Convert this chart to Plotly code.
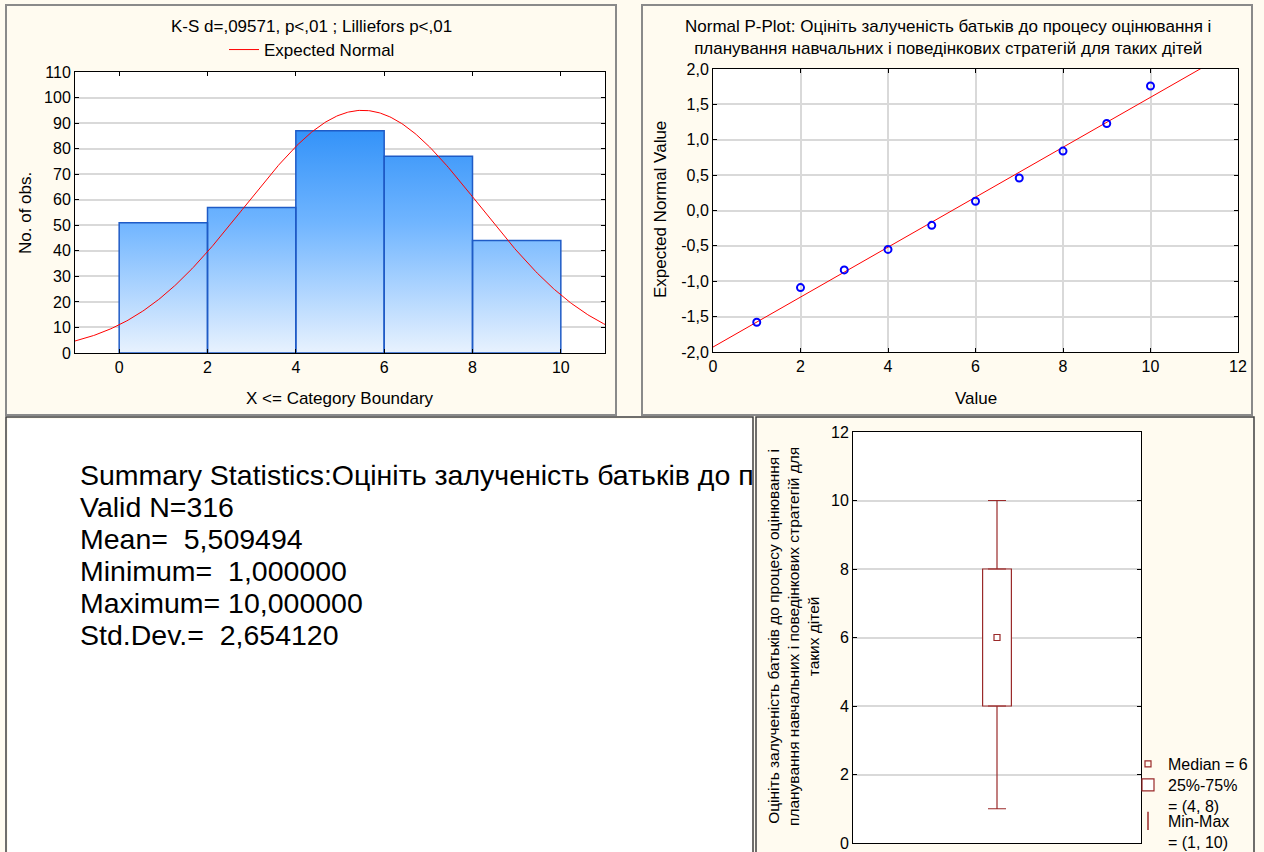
import plotly.graph_objects as go
import numpy as np

# ---------------- data ----------------
var_name = "Оцініть залученість батьків до процесу оцінювання і планування навчальних і поведінкових стратегій для таких дітей"
bin_edges = [0, 2, 4, 6, 8, 10]
bin_counts = [51, 57, 87, 77, 44]
n_valid = 316
mean_val = 5.509494
min_val = 1.0
max_val = 10.0
sd_val = 2.654120
hist_title = "K-S d=,09571, p<,01 ; Lilliefors p<,01"
hist_yticks = [0, 10, 20, 30, 40, 50, 60, 70, 80, 90, 100, 110]
hist_xticks = [0, 2, 4, 6, 8, 10]

pp_values = [1, 2, 3, 4, 5, 6, 7, 8, 9, 10]
pp_expected = [-1.58, -1.09, -0.84, -0.55, -0.21, 0.13, 0.46, 0.84, 1.23, 1.76]
pp_fit_intercept = -1.93
pp_fit_slope = 0.353
pp_yticks = [-2.0, -1.5, -1.0, -0.5, 0.0, 0.5, 1.0, 1.5, 2.0]
pp_yticklabels = ["-2,0", "-1,5", "-1,0", "-0,5", "0,0", "0,5", "1,0", "1,5", "2,0"]
pp_xticks = [0, 2, 4, 6, 8, 10, 12]

box_q1 = 4
box_median = 6
box_q3 = 8
box_yticks = [0, 2, 4, 6, 8, 10, 12]

# ---------------- helpers ----------------
W, H = 1264, 852
FONT = "Arial, Liberation Sans, sans-serif"
CREAM = "#FFFBF0"
BOXRED = "#9A2A2A"
TXT = 17
TICK = 16


def px(x):
    return x / W


def py(y):
    return 1 - y / H


fig = go.Figure()

# ---------------- histogram ----------------
bx, by = [], []
for i, c in enumerate(bin_counts):
    l, r = bin_edges[i], bin_edges[i + 1]
    bx += [l, l, r, r, l, None]
    by += [0, c, c, 0, 0, None]
fig.add_trace(go.Scatter(
    x=bx, y=by, mode="lines", fill="toself",
    line=dict(color="#1F5BC6", width=1.5),
    fillgradient=dict(type="vertical", start=0, stop=90,
                      colorscale=[[0, "#E8F2FE"], [0.567, "#70B5FF"], [1, "#2F90F8"]]),
    showlegend=False, hoverinfo="skip", xaxis="x", yaxis="y"))

bw = bin_edges[1] - bin_edges[0]
cx = np.linspace(-1, 11, 400)
cy = n_valid * bw * np.exp(-0.5 * ((cx - mean_val) / sd_val) ** 2) / (sd_val * np.sqrt(2 * np.pi))
fig.add_trace(go.Scatter(
    x=cx, y=cy, mode="lines", line=dict(color="#FF0000", width=1),
    name="Expected Normal", legend="legend", xaxis="x", yaxis="y"))

# ---------------- normal probability plot ----------------
lx = np.array([0, 12])
fig.add_trace(go.Scatter(
    x=lx, y=pp_fit_intercept + pp_fit_slope * lx, mode="lines",
    line=dict(color="#FF0000", width=1), showlegend=False, xaxis="x2", yaxis="y2"))
fig.add_trace(go.Scatter(
    x=pp_values, y=pp_expected, mode="markers",
    marker=dict(symbol="circle-open", size=7, color="#0000FF", line=dict(width=2, color="#0000FF")),
    showlegend=False, xaxis="x2", yaxis="y2"))

# ---------------- box plot ----------------
fig.add_trace(go.Scatter(
    x=[0, 0], y=[box_q3, box_q1], mode="markers",
    marker=dict(size=1, color="rgba(0,0,0,0)"),
    error_y=dict(type="data", symmetric=False,
                 array=[max_val - box_q3, 0], arrayminus=[0, box_q1 - min_val],
                 color=BOXRED, thickness=1.2, width=9),
    showlegend=False, xaxis="x3", yaxis="y3"))
fig.add_trace(go.Bar(
    x=[0], y=[box_q3 - box_q1], base=[box_q1], width=0.2,
    marker=dict(color="white", line=dict(color=BOXRED, width=1.2)),
    name=f"25%-75%<br>= ({box_q1}, {box_q3})", legend="legend3",
    xaxis="x3", yaxis="y3"))
fig.add_trace(go.Scatter(
    x=[0], y=[box_median], mode="markers",
    marker=dict(symbol="square-open", size=6, color=BOXRED, line=dict(width=1.2, color=BOXRED)),
    name=f"Median = {box_median:g}", legend="legend2",
    xaxis="x3", yaxis="y3"))
fig.add_trace(go.Scatter(
    x=[None], y=[None], mode="markers",
    marker=dict(symbol="line-ns-open", size=13, color=BOXRED, line=dict(width=1.5, color=BOXRED)),
    name=f"Min-Max<br>= ({min_val:g}, {max_val:g})", legend="legend4",
    xaxis="x3", yaxis="y3"))

# ---------------- summary text (clipped by its panel) ----------------
def fmt(v):
    return f"{v:.6f}".replace(".", ",")

NB = "\u00a0"
summary_lines = [
    "Summary Statistics:" + var_name,
    f"Valid N={n_valid}",
    f"Mean={NB} {fmt(mean_val)}",
    f"Minimum={NB} {fmt(min_val)}",
    f"Maximum= {fmt(max_val)}",
    f"Std.Dev.={NB} {fmt(sd_val)}",
]
txt_top, txt_bot = 419, 852
line_pix = [478 + 32.0 * i for i in range(len(summary_lines))]
fig.add_trace(go.Scatter(
    x=[(80 - 8) / (752 - 8)] * len(summary_lines),
    y=[(txt_bot - p) / (txt_bot - txt_top) for p in line_pix],
    mode="text", text=summary_lines, textposition="middle right",
    textfont=dict(family=FONT, size=28.5, color="black"),
    cliponaxis=True, showlegend=False, hoverinfo="skip", xaxis="x4", yaxis="y4"))

# ---------------- axes ----------------
axis_common = dict(showline=True, linecolor="black", linewidth=1, mirror="ticks",
                   ticks="inside", ticklen=4, tickcolor="black", zeroline=False,
                   automargin=False,
                   tickfont=dict(family=FONT, size=TICK, color="black"),
                   gridcolor="#D9D9D9", gridwidth=1.5)

fig.update_layout(
    xaxis=dict(axis_common, domain=[px(75), px(605)], range=[-1, 11], tickvals=hist_xticks,
               showgrid=False, anchor="y"),
    yaxis=dict(axis_common, domain=[py(353), py(72)], range=[0, 110], tickvals=hist_yticks,
               showgrid=True, anchor="x"),
    xaxis2=dict(axis_common, domain=[px(713), px(1238)], range=[0, 12], tickvals=pp_xticks,
                showgrid=True, anchor="y2"),
    yaxis2=dict(axis_common, domain=[py(352), py(69)], range=[-2, 2], tickvals=pp_yticks,
                ticktext=pp_yticklabels, showgrid=True, anchor="x2"),
    xaxis3=dict(axis_common, domain=[px(853), px(1141)], range=[-1, 1], showticklabels=False,
                ticks="", showgrid=False, anchor="y3"),
    yaxis3=dict(axis_common, domain=[py(843), py(432)], range=[0, 12], tickvals=box_yticks,
                showgrid=True, anchor="x3"),
    xaxis4=dict(domain=[px(8), px(752)], range=[0, 1], visible=False, anchor="y4", automargin=False),
    yaxis4=dict(domain=[0, py(419)], range=[0, 1], visible=False, anchor="x4", automargin=False),
)

# ---------------- layout ----------------
ann_font = dict(family=FONT, size=TXT, color="black")
annotations = [
    dict(text=hist_title, x=px(311), y=py(27), xref="paper", yref="paper",
         showarrow=False, font=ann_font, xanchor="center", yanchor="middle"),
    dict(text="X <= Category Boundary", x=px(340), y=py(399), xref="paper", yref="paper",
         showarrow=False, font=ann_font, xanchor="center", yanchor="middle"),
    dict(text="No. of obs.", x=px(25), y=py(213), xref="paper", yref="paper", textangle=-90,
         showarrow=False, font=ann_font, xanchor="center", yanchor="middle"),
    dict(text="Normal P-Plot: Оцініть залученість батьків до процесу оцінювання і<br>"
              "планування навчальних і поведінкових стратегій для таких дітей",
         x=px(948), y=py(37.5), xref="paper", yref="paper",
         showarrow=False, font=ann_font, xanchor="center", yanchor="middle"),
    dict(text="Value", x=px(976), y=py(399), xref="paper", yref="paper",
         showarrow=False, font=ann_font, xanchor="center", yanchor="middle"),
    dict(text="Expected Normal Value", x=px(660), y=py(210), xref="paper", yref="paper",
         textangle=-90, showarrow=False, font=ann_font, xanchor="center", yanchor="middle"),
    dict(text="Оцініть залученість батьків до процесу оцінювання і<br>"
              "планування навчальних і поведінкових стратегій для<br>таких дітей",
         x=px(793), y=py(637), xref="paper", yref="paper", textangle=-90,
         showarrow=False, font=dict(family=FONT, size=15.5, color="black"),
         xanchor="center", yanchor="middle"),
]

shapes = [
    dict(type="rect", xref="paper", yref="paper", x0=px(6), x1=px(616), y0=py(415), y1=py(5),
         line=dict(color="#8A8A8A", width=2), layer="below"),
    dict(type="rect", xref="paper", yref="paper", x0=px(642), x1=px(1252), y0=py(415), y1=py(5),
         line=dict(color="#8A8A8A", width=2), layer="below"),
    dict(type="rect", xref="paper", yref="paper", x0=px(6), x1=px(753), y0=-0.02, y1=py(417),
         line=dict(color="#404040", width=1.5), layer="below"),
    dict(type="rect", xref="paper", yref="paper", x0=px(756), x1=px(1254), y0=-0.02, y1=py(417),
         line=dict(color="#404040", width=1.5), layer="below"),
]

box_legend = dict(x=px(1128), xanchor="left", yanchor="top", bgcolor="rgba(0,0,0,0)",
                  font=dict(family=FONT, size=16, color="black"), itemwidth=30,
                  borderwidth=0, valign="top")

fig.update_layout(
    width=W, height=H, autosize=False,
    margin=dict(l=0, r=0, t=0, b=0, pad=0, autoexpand=False),
    paper_bgcolor=CREAM, plot_bgcolor="white",
    font=dict(family=FONT, size=TXT, color="black"),
    annotations=annotations, shapes=shapes,
    hovermode=False,
    legend=dict(x=px(224), y=py(32), xanchor="left", yanchor="top",
                bgcolor="rgba(0,0,0,0)", font=dict(family=FONT, size=TXT, color="black"),
                itemwidth=30, borderwidth=0),
    legend2=dict(box_legend, y=py(747)),
    legend3=dict(box_legend, y=py(768)),
    legend4=dict(box_legend, y=py(804)),
)

fig.write_html("out.html")
